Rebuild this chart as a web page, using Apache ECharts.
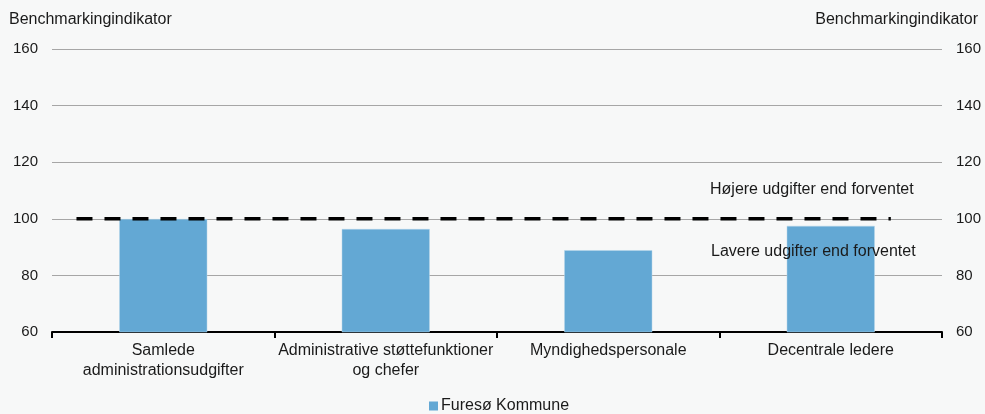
<!DOCTYPE html>
<html>
<head>
<meta charset="utf-8">
<script src="https://cdn.jsdelivr.net/npm/echarts@6/dist/echarts.min.js"></script>
<style>
  html, body { margin: 0; padding: 0; background: #f7f8f8; }
  #chart { width: 985px; height: 414px; }
</style>
</head>
<body>
<div id="chart"></div>
<script>
// Kategorier og værdier
const categories = [
  'Samlede\nadministrationsudgifter',
  'Administrative støttefunktioner\nog chefer',
  'Myndighedspersonale',
  'Decentrale ledere'
];
const furesoValues = [99.9, 96.4, 88.9, 97.5];
const seriesName = 'Furesø Kommune';

// Benchmark-niveau (forventet niveau = 100) og linjens udstrækning i kategorienheder
const benchmarkLevel = 100;
const benchmarkSpan = [0.11, 3.77];

const axisName = 'Benchmarkingindikator';
const yMin = 60, yMax = 160, yStep = 20;

const aboveText = 'Højere udgifter end forventet';
const belowText = 'Lavere udgifter end forventet';

const font = 'Liberation Sans, Arial, sans-serif';
const textColor = '#1a1a1a';
const textSize = 16;

const chart = echarts.init(document.getElementById('chart'), null, { renderer: 'canvas' });

const yAxisCommon = {
  type: 'value',
  min: yMin, max: yMax, interval: yStep,
  name: axisName,
  nameGap: 21,
  nameTextStyle: { color: textColor, fontFamily: font, fontSize: textSize },
  axisLine: { show: false },
  axisTick: { show: false },
  axisLabel: { color: textColor, fontFamily: font, fontSize: 15, margin: 14 },
};

chart.setOption({
  backgroundColor: '#f7f8f8',
  animation: false,
  grid: { left: 52, right: 43, top: 49, bottom: 82 },
  legend: {
    top: 393,
    left: 424,
    data: [seriesName],
    icon: 'rect',
    itemWidth: 9,
    itemHeight: 9,
    itemGap: 4,
    itemStyle: { borderWidth: 0 },
    textStyle: { color: textColor, fontFamily: font, fontSize: textSize, padding: [0, 0, 0, -2] }
  },
  xAxis: [
    {
      type: 'category',
      data: categories,
      axisLine: { lineStyle: { color: '#000', width: 2 } },
      axisTick: { show: true, length: 6, lineStyle: { color: '#000', width: 2 }, alignWithLabel: false },
      axisLabel: { color: textColor, fontFamily: font, fontSize: textSize, lineHeight: 20, margin: 9, interval: 0 },
      splitLine: { show: false }
    },
    {
      type: 'value',
      min: 0, max: categories.length,
      show: false
    }
  ],
  yAxis: [
    Object.assign({}, yAxisCommon, {
      position: 'left',
      nameTextStyle: Object.assign({}, yAxisCommon.nameTextStyle, { align: 'left', padding: [0, 0, 0, -43] }),
      splitLine: { show: true, lineStyle: { color: '#a6a6a6', width: 1 } }
    }),
    Object.assign({}, yAxisCommon, {
      position: 'right',
      nameTextStyle: Object.assign({}, yAxisCommon.nameTextStyle, { align: 'right', padding: [0, -36, 0, 0] }),
      splitLine: { show: false }
    })
  ],
  series: [
    {
      name: seriesName,
      type: 'bar',
      xAxisIndex: 0,
      yAxisIndex: 0,
      data: furesoValues,
      barWidth: 88,
      itemStyle: { color: '#63a8d4', borderColor: '#b7d6ea', borderWidth: 0.5 },
      z: 2
    },
    {
      name: 'Benchmark',
      type: 'line',
      xAxisIndex: 1,
      yAxisIndex: 0,
      data: benchmarkSpan.map(x => [x, benchmarkLevel]),
      symbol: 'none',
      lineStyle: { color: '#000', width: 3.5, type: [16, 12] },
      silent: true,
      z: 3
    }
  ],
  graphic: [
    {
      type: 'text', x: 710, y: 190,
      style: { text: aboveText, fill: textColor, font: textSize + 'px ' + font, verticalAlign: 'middle' }
    },
    {
      type: 'text', x: 711, y: 252,
      style: { text: belowText, fill: textColor, font: textSize + 'px ' + font, verticalAlign: 'middle' },
      z: 10
    }
  ]
});
</script>
</body>
</html>
